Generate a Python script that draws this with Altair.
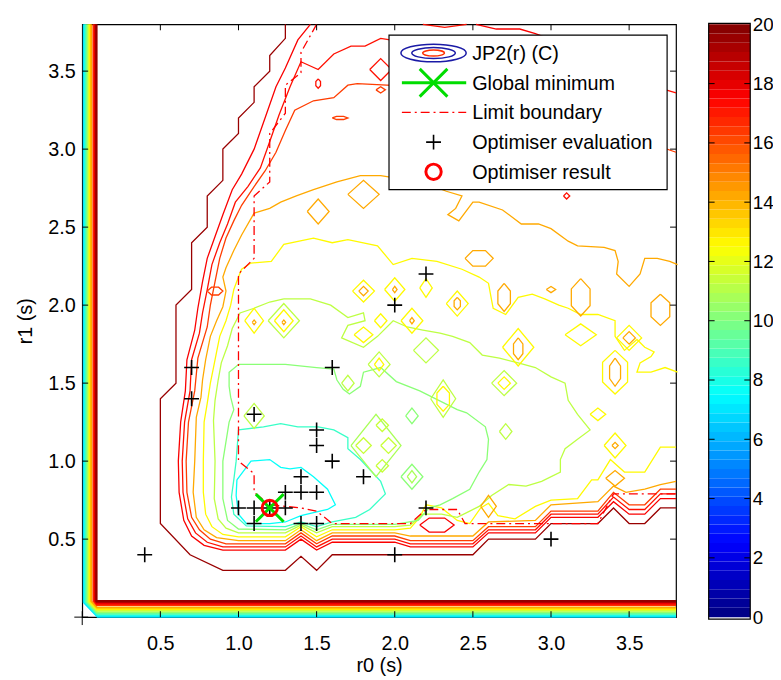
import altair as alt
import pandas as pd

FONT = "Liberation Sans"

# ---------------- data ----------------
tick_vals = [0.5, 1.0, 1.5, 2.0, 2.5, 3.0, 3.5]
cbar_ticks = [0, 2, 4, 6, 8, 10, 12, 14, 16, 18, 20]

eval_r0 = [0.4, 0.7, 0.7, 1.0, 1.1, 1.1, 1.1, 1.2, 1.3, 1.3, 1.4, 1.4, 1.4, 1.5, 1.5, 1.5, 1.5, 1.6, 1.6, 1.8, 2.0, 2.0, 2.2, 2.2, 3.0]
eval_r1 = [0.4, 1.4, 1.6, 0.7, 0.6, 0.7, 1.3, 0.7, 0.7, 0.8, 0.6, 0.8, 0.9, 0.6, 0.8, 1.1, 1.2, 1.0, 1.6, 0.9, 0.4, 2.0, 0.7, 2.2, 0.5]
best_r0 = [1.2]
best_r1 = [0.7]

limit_x = [1.50, 1.40, 1.40, 1.30, 1.30, 1.20, 1.20, 1.10, 1.10, 1.00, 1.00, 1.10, 1.10, 1.20, 1.40, 1.50, 1.60, 2.10, 2.20, 2.40, 2.45, 3.30, 3.40, 3.80]
limit_y = [3.80, 3.62, 3.49, 3.41, 3.23, 3.10, 2.79, 2.70, 2.30, 2.20, 1.00, 0.92, 0.80, 0.72, 0.70, 0.68, 0.60, 0.60, 0.69, 0.69, 0.60, 0.60, 0.79, 0.79]

# contour lines: (level, points)
brown = [(1.30,3.80),(1.30,3.71),(1.20,3.60),(1.20,3.50),(1.10,3.40),(1.10,3.30),(1.00,3.20),(1.00,3.10),(0.90,3.00),(0.90,2.80),(0.80,2.70),(0.80,2.50),(0.70,2.40),(0.70,2.10),(0.60,2.00),(0.60,1.50),(0.50,1.40),(0.50,0.60),(0.69,0.40),(0.90,0.30),(1.30,0.30),(1.40,0.39),(1.50,0.30),(1.60,0.40),(2.10,0.40),(2.50,0.40),(2.60,0.50),(2.90,0.50),(3.00,0.60),(3.30,0.60),(3.40,0.70),(3.50,0.60),(3.60,0.60),(3.70,0.70),(3.80,0.70)]
red1 = [(1.46,3.80),(1.38,3.70),(1.30,3.52),(1.24,3.40),(1.17,3.20),(1.10,3.00),(1.02,2.84),(0.96,2.74),(0.90,2.58),(0.85,2.44),(0.80,2.30),(0.77,2.15),(0.74,1.98),(0.72,1.84),(0.67,1.65),(0.66,1.45),(0.63,1.25),(0.615,1.00),(0.62,0.80),(0.65,0.62),(0.70,0.52),(0.78,0.46),(0.90,0.43),(1.30,0.43),(1.40,0.50),(1.50,0.43),(1.60,0.48),(2.00,0.48),(2.10,0.45),(2.50,0.45),(2.60,0.54),(2.90,0.54),(3.00,0.64),(3.30,0.64),(3.40,0.74),(3.50,0.66),(3.60,0.66),(3.70,0.76),(3.80,0.76)]
red2 = [(3.80,3.36),(3.60,3.42),(3.20,3.55),(2.60,3.66),(2.20,3.70),(1.97,3.70),(1.91,3.71),(1.81,3.66),(1.72,3.66),(1.61,3.61),(1.51,3.51),(1.40,3.56),(1.33,3.40),(1.26,3.22),(1.19,3.02),(1.14,2.88),(1.06,2.76),(0.98,2.66),(0.93,2.52),(0.88,2.40),(0.83,2.26),(0.80,2.10),(0.77,1.95),(0.75,1.82),(0.70,1.65),(0.69,1.45),(0.655,1.25),(0.64,1.00),(0.645,0.80),(0.675,0.63),(0.725,0.54),(0.80,0.48),(0.90,0.45),(1.30,0.45),(1.40,0.52),(1.50,0.45),(1.60,0.50),(2.00,0.50),(2.10,0.47),(2.50,0.47),(2.60,0.56),(2.90,0.56),(3.00,0.66),(3.30,0.66),(3.40,0.77),(3.50,0.69),(3.60,0.69),(3.70,0.79),(3.80,0.79)]
red3 = [(3.80,2.98),(3.60,3.05),(3.20,3.20),(2.60,3.35),(2.20,3.40),(1.95,3.41),(1.76,3.42),(1.70,3.41),(1.61,3.33),(1.48,3.31),(1.36,3.25),(1.30,3.12),(1.24,2.98),(1.17,2.86),(1.10,2.76),(1.02,2.64),(0.97,2.54),(0.92,2.43),(0.88,2.30),(0.85,2.15),(0.82,2.00),(0.80,1.86),(0.74,1.66),(0.72,1.45),(0.68,1.25),(0.665,1.00),(0.67,0.80),(0.70,0.64),(0.75,0.56),(0.82,0.50),(0.92,0.47),(1.30,0.47),(1.40,0.54),(1.50,0.47),(1.60,0.52),(2.00,0.52),(2.10,0.49),(2.50,0.49),(2.60,0.58),(2.90,0.58),(3.00,0.68),(3.30,0.68),(3.40,0.80),(3.50,0.72),(3.60,0.72),(3.70,0.82),(3.80,0.82)]
orange = [(3.81,2.26),(3.76,2.28),(3.68,2.30),(3.60,2.30),(3.57,2.20),(3.50,2.12),(3.42,2.20),(3.43,2.28),(3.41,2.35),(3.34,2.37),(3.17,2.38),(3.11,2.41),(3.00,2.49),(2.92,2.52),(2.81,2.52),(2.69,2.61),(2.54,2.66),(2.50,2.66),(2.41,2.54),(2.34,2.58),(2.39,2.62),(2.43,2.70),(2.33,2.73),(2.15,2.80),(1.97,2.82),(1.91,2.83),(1.78,2.83),(1.63,2.79),(1.48,2.74),(1.37,2.70),(1.27,2.66),(1.20,2.62),(1.10,2.59),(1.02,2.45),(0.97,2.35),(0.92,2.24),(0.90,2.18),(0.92,2.09),(0.90,1.99),(0.86,1.90),(0.82,1.80),(0.79,1.65),(0.77,1.52),(0.76,1.41),(0.73,1.28),(0.72,1.00),(0.71,0.80),(0.73,0.64),(0.78,0.56),(0.86,0.51),(1.00,0.49),(1.30,0.49),(1.40,0.56),(1.50,0.49),(1.60,0.54),(2.00,0.54),(2.10,0.52),(2.50,0.52),(2.60,0.61),(2.90,0.62),(3.00,0.72),(3.30,0.74),(3.40,0.84),(3.48,0.80),(3.60,0.82),(3.70,0.85),(3.80,0.87)]
yellow = [(3.81,1.57),(3.73,1.60),(3.64,1.57),(3.55,1.57),(3.57,1.63),(3.64,1.67),(3.66,1.70),(3.60,1.73),(3.55,1.78),(3.47,1.71),(3.41,1.80),(3.41,1.90),(3.30,1.94),(3.19,1.94),(3.11,1.98),(3.05,2.00),(2.96,2.04),(2.88,2.07),(2.79,2.05),(2.71,1.94),(2.63,1.98),(2.62,2.03),(2.60,2.14),(2.54,2.18),(2.43,2.23),(2.27,2.28),(2.11,2.30),(1.99,2.26),(1.89,2.38),(1.70,2.42),(1.60,2.40),(1.48,2.43),(1.29,2.39),(1.21,2.28),(1.08,2.27),(1.02,2.23),(1.00,2.18),(0.97,2.10),(0.95,2.00),(0.92,1.90),(0.88,1.80),(0.86,1.70),(0.84,1.60),(0.82,1.50),(0.80,1.37),(0.78,1.25),(0.775,1.00),(0.775,0.80),(0.79,0.66),(0.83,0.58),(0.90,0.53),(1.00,0.515),(1.30,0.515),(1.40,0.58),(1.50,0.515),(1.60,0.56),(2.00,0.56),(2.10,0.57),(2.16,0.64),(2.20,0.72),(2.30,0.70),(2.40,0.62),(2.48,0.60),(2.55,0.70),(2.60,0.73),(2.66,0.65),(2.77,0.63),(2.90,0.71),(3.00,0.75),(3.17,0.76),(3.26,0.88),(3.30,0.88),(3.38,1.01),(3.47,0.93),(3.60,0.93),(3.70,1.09),(3.80,1.09)]
ygreen = [(1.29,2.04),(1.46,2.04),(1.59,2.00),(1.70,1.92),(1.80,1.95),(1.81,1.90),(1.70,1.87),(1.66,1.79),(1.80,1.73),(1.89,1.80),(1.99,1.90),(2.08,1.86),(2.18,1.84),(2.29,1.82),(2.37,1.80),(2.48,1.76),(2.56,1.68),(2.67,1.66),(2.79,1.63),(2.90,1.60),(3.00,1.54),(3.09,1.50),(3.11,1.39),(3.17,1.30),(3.25,1.20),(3.17,1.14),(3.09,1.08),(3.06,1.01),(3.06,0.93),(2.94,0.87),(2.84,0.84),(2.73,0.85),(2.62,0.78),(2.54,0.71),(2.48,0.68),(2.40,0.64),(2.30,0.66),(2.18,0.66),(2.10,0.59),(2.00,0.58),(1.60,0.58),(1.50,0.54),(1.40,0.59),(1.30,0.54),(1.00,0.54),(0.92,0.57),(0.87,0.63),(0.845,0.76),(0.85,1.00),(0.84,1.26),(0.85,1.39),(0.87,1.52),(0.89,1.63),(0.93,1.74),(0.96,1.85),(1.01,1.95),(1.10,1.98),(1.20,2.02),(1.29,2.04)]
green = [(1.00,1.62),(1.10,1.62),(1.30,1.62),(1.50,1.60),(1.61,1.59),(1.63,1.52),(1.67,1.46),(1.71,1.43),(1.78,1.48),(1.80,1.57),(1.91,1.60),(2.01,1.51),(2.16,1.45),(2.40,1.33),(2.46,1.31),(2.58,1.22),(2.60,1.14),(2.59,1.01),(2.54,0.93),(2.48,0.82),(2.37,0.76),(2.29,0.72),(2.22,0.70),(2.15,0.62),(2.00,0.595),(1.60,0.595),(1.50,0.56),(1.40,0.60),(1.30,0.56),(1.00,0.565),(0.93,0.62),(0.90,0.76),(0.90,1.00),(0.94,1.25),(0.97,1.33),(0.95,1.41),(0.94,1.48),(0.94,1.57),(1.00,1.62)]
aqua = [(1.00,1.20),(1.16,1.22),(1.27,1.24),(1.38,1.22),(1.51,1.22),(1.61,1.20),(1.70,1.15),(1.70,1.08),(1.78,1.01),(1.91,0.87),(1.94,0.79),(1.84,0.69),(1.75,0.64),(1.60,0.61),(1.50,0.58),(1.40,0.61),(1.30,0.58),(1.05,0.585),(0.97,0.66),(0.955,0.77),(0.97,0.88),(0.985,1.00),(1.00,1.20)]
cyan = [(0.99,0.88),(1.08,1.00),(1.20,1.01),(1.27,0.96),(1.33,0.95),(1.40,0.96),(1.48,0.90),(1.57,0.82),(1.62,0.72),(1.57,0.69),(1.48,0.67),(1.40,0.65),(1.30,0.61),(1.20,0.60),(1.05,0.60),(1.00,0.66),(0.985,0.78),(0.99,0.88)]
top_arc1 = [(2.18,3.80),(2.32,3.78),(2.46,3.80)]
top_arc2 = [(2.52,3.80),(2.65,3.77),(2.80,3.77),(2.90,3.74),(2.98,3.71)]

contours = [
    (19.5, brown), (17.6, red1), (17.2, red2), (16.3, red3), (14.2, orange),
    (12.6, yellow), (11.2, ygreen), (10.2, green), (8.6, aqua), (7.6, cyan),
    (17.2, top_arc1), (17.6, top_arc2),
]

# small closed loops: centre r0, centre r1, half-width, half-height, level
loops = [
    (1.10,1.29,0.065,0.08,11.2),
    (1.10,1.90,0.06,0.08,12.6),(1.10,1.89,0.012,0.015,14.2),
    (1.29,1.90,0.10,0.11,11.2),(1.29,1.90,0.06,0.07,12.6),(1.29,1.89,0.012,0.015,14.2),
    (1.51,2.60,0.07,0.08,14.2),(1.80,2.71,0.10,0.09,14.2),
    (1.91,3.51,0.07,0.07,17.2),(1.91,3.38,0.03,0.02,16.3),(1.51,3.42,0.015,0.03,17.2),(1.65,3.20,0.05,0.01,16.3),
    (1.80,2.09,0.07,0.07,12.6),(1.80,2.09,0.03,0.03,14.2),
    (2.00,2.10,0.065,0.075,12.6),(2.00,2.10,0.015,0.02,14.2),
    (2.20,2.11,0.04,0.06,12.6),
    (2.40,2.01,0.07,0.08,12.6),(2.40,2.01,0.02,0.04,14.2),
    (1.91,1.90,0.04,0.045,12.6),
    (2.11,1.90,0.07,0.08,12.6),(2.11,1.90,0.015,0.02,14.2),
    (1.80,1.81,0.06,0.05,12.6),
    (2.20,1.71,0.08,0.08,11.2),
    (1.90,1.62,0.07,0.08,11.2),(1.90,1.62,0.03,0.04,12.6),
    (2.54,2.30,0.09,0.05,14.2),(2.70,2.05,0.04,0.09,14.2),(3.00,2.10,0.03,0.02,14.2),
    (3.19,2.05,0.06,0.12,14.2),(3.70,1.97,0.06,0.10,14.2),
    (3.19,1.81,0.10,0.07,12.6),
    (3.50,1.79,0.08,0.08,12.6),(3.50,1.79,0.04,0.04,14.2),
    (2.79,1.73,0.10,0.12,12.6),(2.79,1.72,0.03,0.07,14.2),
    (3.41,1.57,0.08,0.14,12.6),(3.41,1.57,0.035,0.09,14.2),
    (2.70,1.50,0.08,0.08,11.2),(2.70,1.50,0.04,0.04,12.6),
    (2.31,1.40,0.08,0.12,11.2),(2.31,1.40,0.04,0.08,12.6),
    (2.11,1.29,0.04,0.05,10.2),(2.71,1.19,0.04,0.05,11.2),(3.30,1.30,0.05,0.04,12.6),
    (3.41,1.10,0.07,0.08,12.6),(3.41,1.10,0.02,0.02,14.2),
    (3.41,0.89,0.06,0.05,14.2),
    (2.11,0.90,0.07,0.08,10.2),(2.11,0.90,0.03,0.04,10.8),
    (2.60,0.71,0.05,0.07,14.2),
    (1.70,1.50,0.04,0.05,11.2),
    (1.88,1.10,0.16,0.20,10.8),(1.80,1.10,0.05,0.05,11.4),(1.96,1.10,0.05,0.05,11.4),
    (1.92,1.23,0.04,0.04,11.4),(1.92,0.97,0.04,0.04,11.4),
    (2.27,0.59,0.11,0.045,17.6),
    (0.85,2.09,0.05,0.025,16.3),
    (3.10,2.70,0.02,0.02,17.2),
]

# contour bands along the r0 = 0 and r1 = 0 edges
edge_levels = [7.0, 8.0, 9.2, 10.4, 11.6, 12.8, 14.2, 16.6, 17.8, 19.0, 19.6]
edge_x = [0.010, 0.018, 0.026, 0.034, 0.042, 0.050, 0.058, 0.072, 0.080, 0.087, 0.092]
edge_y = [0.002, 0.012, 0.022, 0.032, 0.042, 0.052, 0.062, 0.078, 0.088, 0.097, 0.104]
edge_cy = [0.094, 0.096, 0.098, 0.099, 0.100, 0.101, 0.102, 0.104, 0.105, 0.106, 0.107]
edge_dx = [0.098, 0.097, 0.096, 0.095, 0.095, 0.094, 0.094, 0.093, 0.092, 0.092, 0.092]

legend_labels = ["JP2(r) (C)", "Global minimum", "Limit boundary", "Optimiser evaluation", "Optimiser result"]

JET_STOPS = [0, 2.5, 5, 7.5, 10, 12.5, 15, 17.5, 20]
JET = ["#000080", "#0000ff", "#0080ff", "#00ffff", "#80ff80", "#ffff00", "#ff8000", "#ff0000", "#800000"]

# ---------------- build tables ----------------
rows = []
lid = 0
for lev, pts in contours:
    for k, (x, y) in enumerate(pts):
        rows.append({"x": x, "y": y, "level": lev, "lid": lid, "ord": k})
    lid += 1
for cx, cy, hx, hy, lev in loops:
    if hy > 1.6 * hx:
        pts = [(cx, cy + hy), (cx + hx, cy + 0.45 * hy), (cx + hx, cy - 0.45 * hy), (cx, cy - hy),
               (cx - hx, cy - 0.45 * hy), (cx - hx, cy + 0.45 * hy), (cx, cy + hy)]
    elif hx > 1.6 * hy:
        pts = [(cx - hx, cy), (cx - 0.45 * hx, cy + hy), (cx + 0.45 * hx, cy + hy), (cx + hx, cy),
               (cx + 0.45 * hx, cy - hy), (cx - 0.45 * hx, cy - hy), (cx - hx, cy)]
    else:
        pts = [(cx - hx, cy), (cx, cy + hy), (cx + hx, cy), (cx, cy - hy), (cx - hx, cy)]
    for k, (x, y) in enumerate(pts):
        rows.append({"x": x, "y": y, "level": lev, "lid": lid, "ord": k})
    lid += 1
cont_df = pd.DataFrame(rows)

erows = []
for i, lev in enumerate(edge_levels):
    pts = [(edge_x[i], 3.8), (edge_x[i], edge_cy[i]), (edge_dx[i], edge_y[i]), (3.8, edge_y[i])]
    for k, (x, y) in enumerate(pts):
        erows.append({"x": x, "y": y, "level": lev, "lid": i, "ord": k})
edge_df = pd.DataFrame(erows)

limit_df = pd.DataFrame({"x": limit_x, "y": limit_y, "ord": list(range(len(limit_x)))})
eval_df = pd.DataFrame({"x": eval_r0, "y": eval_r1})
best_df = pd.DataFrame({"x": best_r0, "y": best_r1})
tick_df = pd.DataFrame({"x": tick_vals, "y": tick_vals})
zero_df = pd.DataFrame({"x": [0.0], "y": [0.0]})
one = pd.DataFrame({"a": [0]})

W, H = 600, 599
xs = alt.Scale(domain=[0, 3.8], nice=False, zero=False)
ys = alt.Scale(domain=[0, 3.8], nice=False, zero=False)
cs = alt.Scale(domain=JET_STOPS, range=JET, interpolate="rgb")

AX = alt.Axis(
    values=tick_vals, format=".1f", tickSize=0, domain=False, grid=False,
    labelFont=FONT, labelFontSize=20, labelColor="black", labelPadding=17,
    labelOverlap=False, labelFlush=False,
    title="r0 (s)", titleFont=FONT, titleFontSize=20, titleFontWeight="normal",
    titleColor="black", titlePadding=2)
AY = alt.Axis(
    values=tick_vals, format=".1f", tickSize=0, domain=False, grid=False,
    labelFont=FONT, labelFontSize=20, labelColor="black", labelPadding=7,
    labelOverlap=False, labelFlush=False,
    title="r1 (s)", titleFont=FONT, titleFontSize=20, titleFontWeight="normal",
    titleColor="black", titlePadding=12)
X = alt.X("x:Q", scale=xs, axis=AX)
Y = alt.Y("y:Q", scale=ys, axis=AY)
C = alt.Color("level:Q", scale=cs, legend=None)

edges = alt.Chart(edge_df).mark_line(strokeWidth=2.0, strokeCap="butt").encode(
    x=X, y=Y, color=C, detail="lid:N", order="ord:Q")
lines = alt.Chart(cont_df).mark_line(strokeWidth=1.3).encode(
    x=X, y=Y, color=C, detail="lid:N", order="ord:Q")
limit = alt.Chart(limit_df).mark_line(color="#ff0000", strokeWidth=1.3, strokeDash=[9, 4, 2, 4]).encode(
    x=X, y=Y, order="ord:Q")

PLUS = "M-1,0L1,0M0,-1L0,1"
XSHAPE = "M-1,-1L1,1M-1,1L1,-1"
evals = alt.Chart(eval_df).mark_point(shape=PLUS, size=225, strokeWidth=1.6, color="black", filled=False, opacity=1).encode(x=X, y=Y)
gmin = alt.Chart(best_df).mark_point(shape=XSHAPE, size=784, strokeWidth=3, color="#00dd00", filled=False, opacity=1).encode(x=X, y=Y)
best = alt.Chart(best_df).mark_point(shape="circle", size=240, strokeWidth=3, color="#ff0000", filled=False, opacity=1).encode(x=X, y=Y)

# inward ticks on all four sides
tk = []
tk.append(alt.Chart(tick_df).mark_rule(color="black", strokeWidth=1).encode(x=X, y=alt.value(H), y2=alt.value(H - 6)))
tk.append(alt.Chart(tick_df).mark_rule(color="black", strokeWidth=1).encode(x=X, y=alt.value(0), y2=alt.value(6)))
tk.append(alt.Chart(tick_df).mark_rule(color="black", strokeWidth=1).encode(y=Y, x=alt.value(0), x2=alt.value(6)))
tk.append(alt.Chart(tick_df).mark_rule(color="black", strokeWidth=1).encode(y=Y, x=alt.value(W), x2=alt.value(W - 6)))
tk.append(alt.Chart(zero_df).mark_rule(color="black", strokeWidth=1).encode(x=X, y=alt.value(H - 6), y2=alt.value(H + 8)))
tk.append(alt.Chart(zero_df).mark_rule(color="black", strokeWidth=1).encode(y=Y, x=alt.value(-8), x2=alt.value(6)))

# legend box
LX0, LX1, LY0, LY1 = 310, 591, 11, 167
ICX, TX = 355, 394
rowy = [29, 59, 89, 119, 149]
leg = [alt.Chart(one).mark_rect(fill="white", stroke="black", strokeWidth=1.2).encode(
    x=alt.value(LX0), x2=alt.value(LX1), y=alt.value(LY0), y2=alt.value(LY1))]
ell1 = "M-1,0A1,0.27 0 1,1 1,0A1,0.27 0 1,1 -1,0Z"
ell2 = "M-1,0A1,0.25 0 1,1 1,0A1,0.25 0 1,1 -1,0Z"
leg.append(alt.Chart(one).mark_point(shape=ell1, size=4356, color="#1a1aa6", strokeWidth=1.5, filled=False, opacity=1).encode(x=alt.value(ICX), y=alt.value(rowy[0])))
leg.append(alt.Chart(one).mark_point(shape=ell2, size=1936, color="#1a1aa6", strokeWidth=1.5, filled=False, opacity=1).encode(x=alt.value(ICX), y=alt.value(rowy[0])))
leg.append(alt.Chart(one).mark_point(shape=ell1, size=484, color="#ff3000", strokeWidth=1.5, filled=False, opacity=1).encode(x=alt.value(ICX), y=alt.value(rowy[0])))
leg.append(alt.Chart(one).mark_rule(color="#00dd00", strokeWidth=3).encode(x=alt.value(323), x2=alt.value(388), y=alt.value(rowy[1])))
leg.append(alt.Chart(one).mark_point(shape=XSHAPE, size=784, strokeWidth=3, color="#00dd00", filled=False, opacity=1).encode(x=alt.value(ICX), y=alt.value(rowy[1])))
leg.append(alt.Chart(one).mark_rule(color="#ff0000", strokeWidth=1.3, strokeDash=[9, 4, 2, 4]).encode(x=alt.value(323), x2=alt.value(388), y=alt.value(rowy[2])))
leg.append(alt.Chart(one).mark_point(shape=PLUS, size=225, strokeWidth=1.6, color="black", filled=False, opacity=1).encode(x=alt.value(ICX), y=alt.value(rowy[3])))
leg.append(alt.Chart(one).mark_point(shape="circle", size=240, strokeWidth=3, color="#ff0000", filled=False, opacity=1).encode(x=alt.value(ICX), y=alt.value(rowy[4])))
for i, lab in enumerate(legend_labels):
    leg.append(alt.Chart(one).mark_text(text=lab, font=FONT, fontSize=20, color="black", align="left", baseline="middle").encode(
        x=alt.value(TX), y=alt.value(rowy[i] + 1)))

main = alt.layer(edges, lines, limit, evals, gmin, best, *tk, *leg)

# colour bar
steps = [i * 20 / 64 for i in range(64)]
cb_df = pd.DataFrame({"v0": steps, "v1": [s + 20 / 64 for s in steps], "level": [s + 10 / 64 for s in steps]})
cbs = alt.Scale(domain=[0, 20], nice=False, zero=False)
CBX0, CBX1 = 633, 675
CBA = alt.Axis(
    orient="right", offset=CBX1 - W, values=cbar_ticks, tickSize=0, domain=False, grid=False,
    labelFont=FONT, labelFontSize=19, labelColor="black", labelPadding=2,
    labelOverlap=False, labelFlush=False, title=None)
cb_rect = alt.Chart(cb_df).mark_rect().encode(
    y=alt.Y("v0:Q", scale=cbs, axis=CBA),
    y2="v1:Q", x=alt.value(CBX0), x2=alt.value(CBX1), color=C)
cbt_df = pd.DataFrame({"v0": cbar_ticks[1:-1]})
cb_t1 = alt.Chart(cbt_df).mark_rule(color="black").encode(y=alt.Y("v0:Q", scale=cbs, axis=CBA), x=alt.value(CBX0), x2=alt.value(CBX0 + 6))
cb_t2 = alt.Chart(cbt_df).mark_rule(color="black").encode(y=alt.Y("v0:Q", scale=cbs, axis=CBA), x=alt.value(CBX1), x2=alt.value(CBX1 - 6))
cb_frame = alt.Chart(one).mark_rect(fill=None, stroke="black", strokeWidth=1.2).encode(
    x=alt.value(CBX0), x2=alt.value(CBX1), y=alt.value(-1), y2=alt.value(H + 2))
cbar = alt.layer(cb_rect, cb_t1, cb_t2, cb_frame)

chart = alt.layer(main, cbar).resolve_scale(y="independent").properties(
    width=W, height=H,
    padding={"left": 75, "top": 13, "right": 98, "bottom": 58},
    autosize=alt.AutoSizeParams(type="none"),
    background="white",
).configure_view(stroke="black", strokeWidth=1.2)

chart.save("out.html", embed_options={"renderer": "svg", "actions": False})
